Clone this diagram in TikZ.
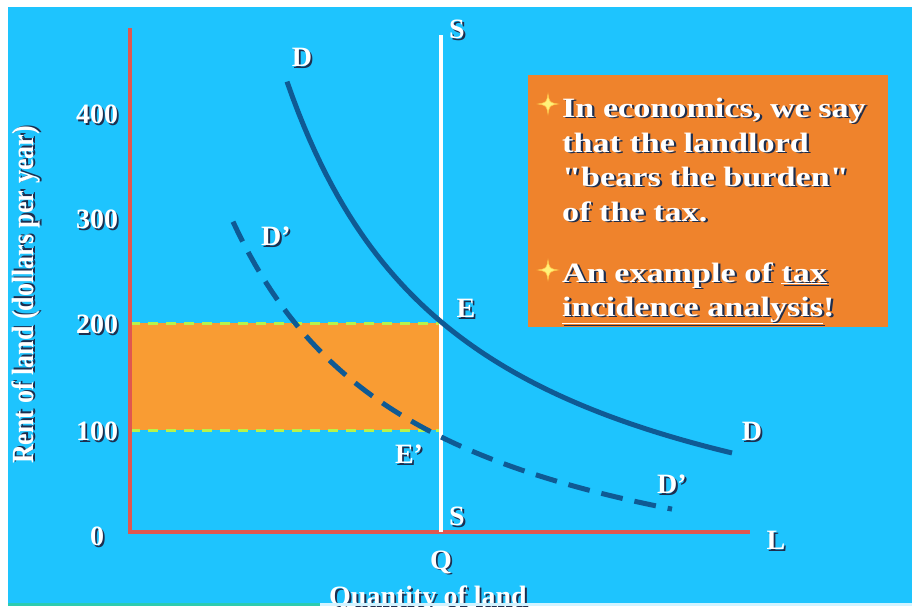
\documentclass[tikz,border=0pt]{standalone}
\usepackage{fontspec}
\setmainfont{Liberation Serif}[Ligatures=TeXOff]
\definecolor{bg}{HTML}{1EC4FE}
\definecolor{axisred}{HTML}{E0574F}
\definecolor{curveblue}{HTML}{0F5A94}
\definecolor{boxorange}{HTML}{EF832C}
\definecolor{rectorange}{HTML}{F99C33}
\definecolor{dashgreen}{HTML}{B8F24A}
\definecolor{shadowc}{HTML}{1E2E4E}
\definecolor{staryellow}{HTML}{FFF27A}
\definecolor{stripteal}{HTML}{2CCBB0}
\newcommand\shtext[1]{\leavevmode\rlap{\kern1.8pt\raisebox{-1.8pt}{\color{shadowc}#1}}#1}
\newcommand\bigf{\fontsize{28}{34}\selectfont\bfseries}
\tikzset{
  lbl/.style={text=white, font=\bigf, inner sep=0pt},
  boxline/.style={lbl, anchor=base west, text height=21pt, text depth=6pt},
  axisline/.style={draw=axisred, line width=4pt},
  supply/.style={draw=white, line width=3.5pt},
  demand/.style={draw=curveblue, line width=5pt},
  demandtwo/.style={demand, dash pattern=on 22pt off 12pt},
  bandedge/.style={draw=dashgreen, line width=3pt, dash pattern=on 10pt off 8pt},
  starshape/.style={fill=staryellow, draw=staryellow!60!orange, line width=0.6pt}
}
\begin{document}
\begin{tikzpicture}[x=1pt,y=-1pt]
\useasboundingbox (0,0) rectangle (912,606);
% background
\fill[white] (0,0) rectangle (912,606);
\fill[bg] (8,7) rectangle (912,603);
% coordinates
\coordinate (O) at (130,532);
\coordinate (Ytop) at (130,28);
\coordinate (Xend) at (750,532);
\coordinate (Stop) at (441,35);
\coordinate (Sbot) at (441,532);
\coordinate (E) at (441,323);
\coordinate (Ep) at (441,430);
\coordinate (L200) at (130,323);
\coordinate (L100) at (130,430);
% tax band
\fill[rectorange] (L200) rectangle (Ep);
\draw[bandedge] (L200) -- (E);
\draw[bandedge] (L100) -- (Ep);
% axes
\draw[axisline] (Ytop) -- ([yshift=-2pt]O);
\draw[axisline] ([xshift=-2pt]O) -- (Xend);
% supply
\draw[supply] (Stop) -- (Sbot);
% demand curves
\draw[demand, line cap=butt] plot[domain=287:732, samples=80] (\x, {532 - (945/((\x-106)*0.01) - 72)});
\draw[demandtwo] plot[domain=233:672, samples=80] (\x, {532 - (782/((\x-43)*0.01) - 101.5)});
% explanation box
\fill[boxorange] (528,75) rectangle (888,327);
\foreach \sy in {104,270}{
  \fill[starshape] (548,\sy-10) .. controls (549.5,\sy-1.5) .. (558,\sy) .. controls (549.5,\sy+1.5) .. (548,\sy+10) .. controls (546.5,\sy+1.5) .. (538,\sy) .. controls (546.5,\sy-1.5) .. cycle;
}
\node[boxline] (t1) at (562,117) {\scalebox{1.22}[1]{\shtext{In economics, we say}}};
\node[boxline] (t2) at (562,152) {\scalebox{1.22}[1]{\shtext{that the landlord}}};
\node[boxline] (t3) at (562,186) {\scalebox{1.22}[1]{\shtext{"bears the burden"}}};
\node[boxline] (t4) at (562,221) {\scalebox{1.22}[1]{\shtext{of the tax.}}};
\node[boxline] (t5) at (562,282) {\scalebox{1.22}[1]{\shtext{An example of \underline{tax}}}};
\node[boxline] (t6) at (562,316) {\scalebox{1.22}[1]{\shtext{\underline{incidence analysis}!}}};
% tick labels
\node[lbl] (y400) at (97,115) {\shtext{400}};
\node[lbl] (y300) at (97,220) {\shtext{300}};
\node[lbl] (y200) at (97,325) {\shtext{200}};
\node[lbl] (y100) at (97,432) {\shtext{100}};
\node[lbl] (y0) at (97,537) {\shtext{0}};
% curve labels
\node[lbl] (lS1) at (457,30) {\shtext{S}};
\node[lbl] (lS2) at (457,517) {\shtext{S}};
\node[lbl] (lD1) at (302,58) {\shtext{D}};
\node[lbl] (lD2) at (752,432) {\shtext{D}};
\node[lbl] (lDp1) at (276,237) {\shtext{D’}};
\node[lbl] (lDp2) at (672,485) {\shtext{D’}};
\node[lbl] (lE) at (466,309) {\shtext{E}};
\node[lbl] (lEp) at (409,455) {\shtext{E’}};
\node[lbl] (lQ) at (441,563) {\shtext{Q}};
\node[lbl] (lL) at (776,541) {\shtext{L}};
% axis titles
\node[lbl, rotate=90] (ytitle) at (27,295) {\scalebox{0.93}[1.1]{\shtext{Rent of land (dollars per year)}}};
\node[lbl] (xtitle) at (428,600) {\shtext{Quantity of land}};
% bottom strip
\fill[white!80!bg] (8,603) rectangle (912,606);
\fill[stripteal] (8,603) rectangle (320,606);
\fill[white] (0,0) rectangle (8,606);
\end{tikzpicture}
\end{document}
